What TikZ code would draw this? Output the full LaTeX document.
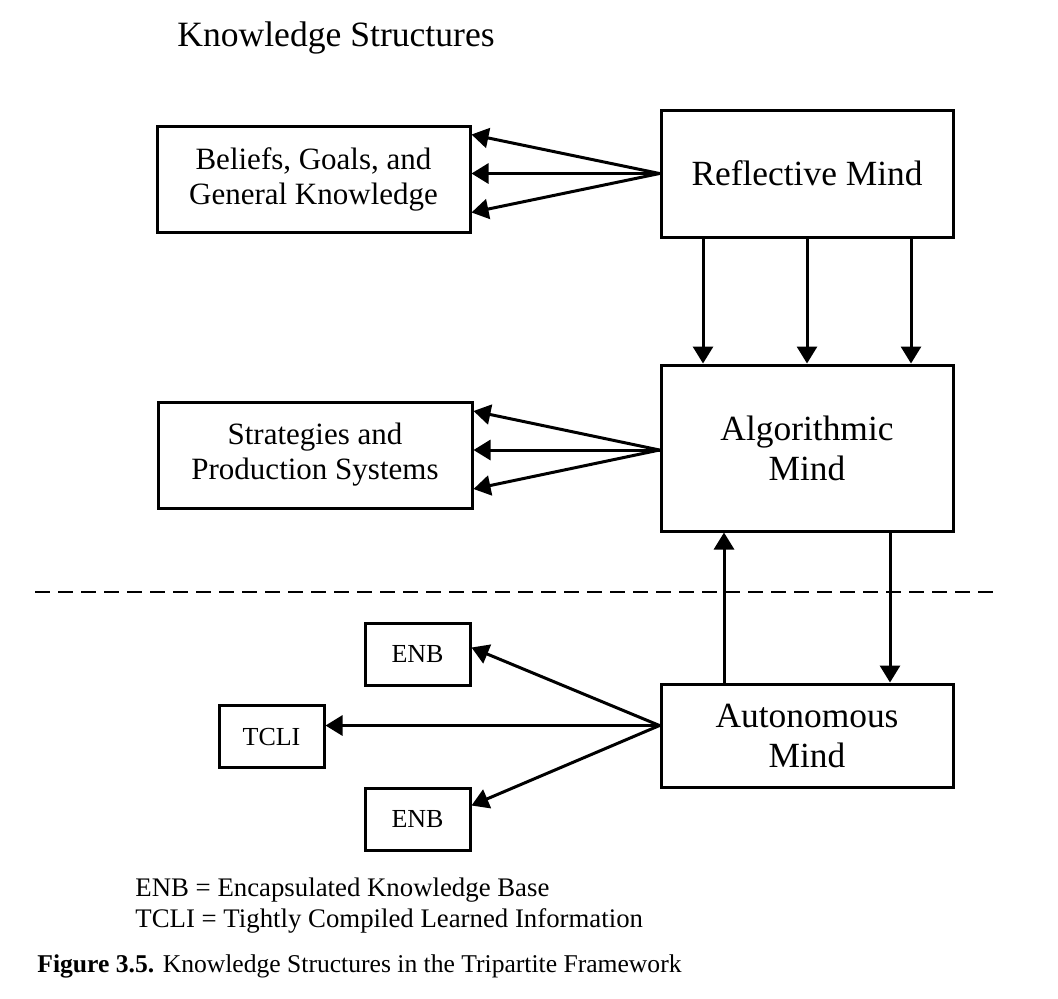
\documentclass[tikz,border=0pt]{standalone}
\usepackage{fontspec}
\setmainfont{Liberation Serif}
\usepackage{tikz}
\usetikzlibrary{arrows.meta,positioning}
\tikzset{
  mind/.style={draw=black,line width=1.5pt,align=center,minimum width=146pt,inner sep=3pt,font=\fontsize{17.7}{20}\selectfont},
  store/.style={draw=black,line width=1.5pt,align=center,minimum height=53pt,inner sep=3pt,font=\fontsize{15.5}{17.5}\selectfont},
  tag/.style={draw=black,line width=1.5pt,minimum width=52.5pt,minimum height=31pt,inner sep=2pt,font=\fontsize{13}{15}\selectfont},
  flow/.style={-{Triangle[length=8.5pt,width=10pt]},line width=1.5pt,draw=black},
  sep/.style={dash pattern=on 7.5pt off 4pt,line width=1.4pt,draw=black},
  ttl/.style={font=\fontsize{17.8}{20}\selectfont,inner sep=0pt},
  legend/.style={font=\fontsize{13.4}{15.5}\selectfont,align=left,inner sep=0pt,anchor=west},
  caption/.style={font=\fontsize{12.8}{15}\selectfont,inner sep=0pt,anchor=west}
}

\begin{document}
\begin{tikzpicture}[x=0.5pt,y=-0.5pt]
  \useasboundingbox (0,0) rectangle (1058,998);
  \node[ttl] (title) at (336,38) {Knowledge Structures};
  \node[mind, minimum height=63.5pt] (refl) at (807,173.5) {Reflective Mind};
  \node[mind, minimum height=83pt, below=62.5pt of refl] (algo) {Algorithmic\\Mind};
  \node[mind, minimum height=51.5pt, below=75pt of algo] (auto) {Autonomous\\Mind};
  \node[store, minimum width=156.5pt, left=94pt of refl, yshift=-2.75pt] (bgk) {Beliefs, Goals, and\\General Knowledge};
  \node[store, minimum width=157pt, left=93pt of algo, yshift=-3.5pt] (sps) {Strategies and\\Production Systems};
  \node[tag, left=94pt of auto, yshift=40.75pt] (enbA) {ENB};
  \node[tag, left=167pt of auto, yshift=-0.5pt] (tcli) {TCLI};
  \node[tag, left=94pt of auto, yshift=-42pt] (enbB) {ENB};
  \coordinate (sepL) at (35,592);
  \coordinate (sepR) at (995,592);
  \draw[sep] (sepL) -- (sepR);
  \foreach \dy in {22.25pt,2.75pt,-16.75pt}
    \draw[flow] (refl.west) -- ([yshift=\dy]bgk.east);
  \foreach \dy in {22pt,2.5pt,-17pt}
    \draw[flow] ([yshift=-1pt]algo.west) -- ([yshift=\dy]sps.east);
  \foreach \dx in {-52pt,0pt,52pt}
    \draw[flow] ([xshift=\dx]refl.south) -- ([xshift=\dx]algo.north);
  \draw[flow] ([xshift=-41.5pt]auto.north) -- ([xshift=-41.5pt]algo.south);
  \draw[flow] ([xshift=41.5pt]algo.south) -- ([xshift=41.5pt]auto.north);
  \draw[flow] ([yshift=5pt]auto.west) -- ([yshift=3.25pt]enbA.east);
  \draw[flow] ([yshift=5pt]auto.west) -- ([yshift=5.5pt]tcli.east);
  \draw[flow] ([yshift=5pt]auto.west) -- ([yshift=7pt]enbB.east);
  \node[legend] (key) at (135,906) {ENB = Encapsulated Knowledge Base\\TCLI = Tightly Compiled Learned Information};
  \node[caption] (cap) at (37,966) {\textbf{Figure 3.5.} Knowledge Structures in the Tripartite Framework};
\end{tikzpicture}
\end{document}
